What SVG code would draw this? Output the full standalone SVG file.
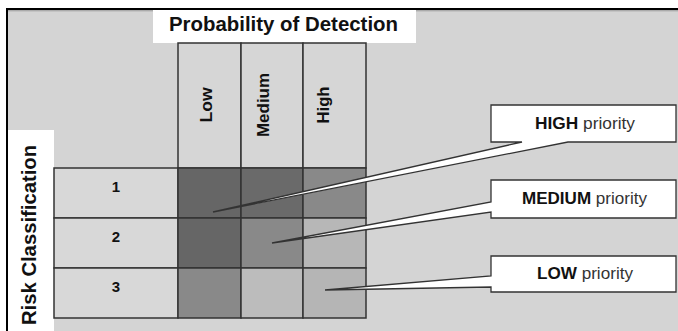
<svg xmlns="http://www.w3.org/2000/svg" width="678" height="331" viewBox="0 0 678 331">
<style>
.lbl{font-family:"Liberation Sans",Arial,sans-serif;font-weight:bold;fill:#111}
.cell{stroke:#333;stroke-width:1.5}
.call{fill:#fff;stroke:#333;stroke-width:1.3;stroke-linejoin:miter}
.ct{font-family:"Liberation Sans",Arial,sans-serif;font-size:17px;fill:#333}
</style>
<rect x="0" y="0" width="678" height="331" fill="#fff"/>
<rect x="7" y="9" width="672" height="323" fill="#d4d4d4"/>
<path d="M7,331 V9 H678" fill="none" stroke="#000" stroke-width="2"/>
<line x1="8" y1="10.8" x2="678" y2="10.8" stroke="#999" stroke-width="1"/>

<g id="title">
<rect x="153" y="10" width="263" height="33" fill="#fff"/>
<text class="lbl" x="169" y="30.5" font-size="20" textLength="229" lengthAdjust="spacingAndGlyphs">Probability of Detection</text>
</g>

<g id="risk-title">
<rect x="8" y="130" width="46" height="202" fill="#fff"/>
<text class="lbl" transform="translate(35.5,235) rotate(-90)" text-anchor="middle" font-size="20" textLength="180" lengthAdjust="spacingAndGlyphs">Risk Classification</text>
</g>

<g id="col-low">
<rect class="cell" x="178" y="43" width="63" height="125" fill="#d6d6d6"/>
<text class="lbl" transform="translate(211.5,105) rotate(-90)" text-anchor="middle" font-size="17" textLength="35" lengthAdjust="spacingAndGlyphs">Low</text>
</g>
<g id="col-medium">
<rect class="cell" x="241" y="43" width="62" height="125" fill="#d6d6d6"/>
<text class="lbl" transform="translate(268.5,105) rotate(-90)" text-anchor="middle" font-size="17" textLength="64" lengthAdjust="spacingAndGlyphs">Medium</text>
</g>
<g id="col-high">
<rect class="cell" x="303" y="43" width="63" height="125" fill="#d6d6d6"/>
<text class="lbl" transform="translate(328.5,105) rotate(-90)" text-anchor="middle" font-size="17" textLength="37" lengthAdjust="spacingAndGlyphs">High</text>
</g>

<g id="row-1">
<rect class="cell" x="54" y="168" width="124" height="50" fill="#d8d8d8"/>
<text class="lbl" x="116" y="191.5" font-size="15" text-anchor="middle">1</text>
<rect class="cell" x="178" y="168" width="63" height="50" fill="#666"/>
<rect class="cell" x="241" y="168" width="62" height="50" fill="#6a6a6a"/>
<rect class="cell" x="303" y="168" width="63" height="50" fill="#898989"/>
</g>
<g id="row-2">
<rect class="cell" x="54" y="218" width="124" height="50" fill="#d8d8d8"/>
<text class="lbl" x="116" y="241.5" font-size="15" text-anchor="middle">2</text>
<rect class="cell" x="178" y="218" width="63" height="50" fill="#666"/>
<rect class="cell" x="241" y="218" width="62" height="50" fill="#898989"/>
<rect class="cell" x="303" y="218" width="63" height="50" fill="#b7b7b7"/>
</g>
<g id="row-3">
<rect class="cell" x="54" y="268" width="124" height="50" fill="#d8d8d8"/>
<text class="lbl" x="116" y="291.5" font-size="15" text-anchor="middle">3</text>
<rect class="cell" x="178" y="268" width="63" height="50" fill="#898989"/>
<rect class="cell" x="241" y="268" width="62" height="50" fill="#bcbcbc"/>
<rect class="cell" x="303" y="268" width="63" height="50" fill="#b5b5b5"/>
</g>

<g id="connectors">
<g id="callout-high">
<path class="call" d="M491,105 H676 V142 H568 L213,212 L522,142 H491 Z"/>
<text class="ct" x="585" y="128.5" text-anchor="middle" textLength="100" lengthAdjust="spacingAndGlyphs"><tspan font-weight="bold" fill="#111">HIGH</tspan> priority</text>
</g>
<g id="callout-medium">
<path class="call" d="M491,180 H676 V218 H491 V212 L272,243 L491,202 Z"/>
<text class="ct" x="584.5" y="203.5" text-anchor="middle" textLength="125" lengthAdjust="spacingAndGlyphs"><tspan font-weight="bold" fill="#111">MEDIUM</tspan> priority</text>
</g>
<g id="callout-low">
<path class="call" d="M491,256 H676 V292 H491 V287 L325,290 L491,276 Z"/>
<text class="ct" x="585" y="278.5" text-anchor="middle" textLength="96" lengthAdjust="spacingAndGlyphs"><tspan font-weight="bold" fill="#111">LOW</tspan> priority</text>
</g>
</g>
</svg>
